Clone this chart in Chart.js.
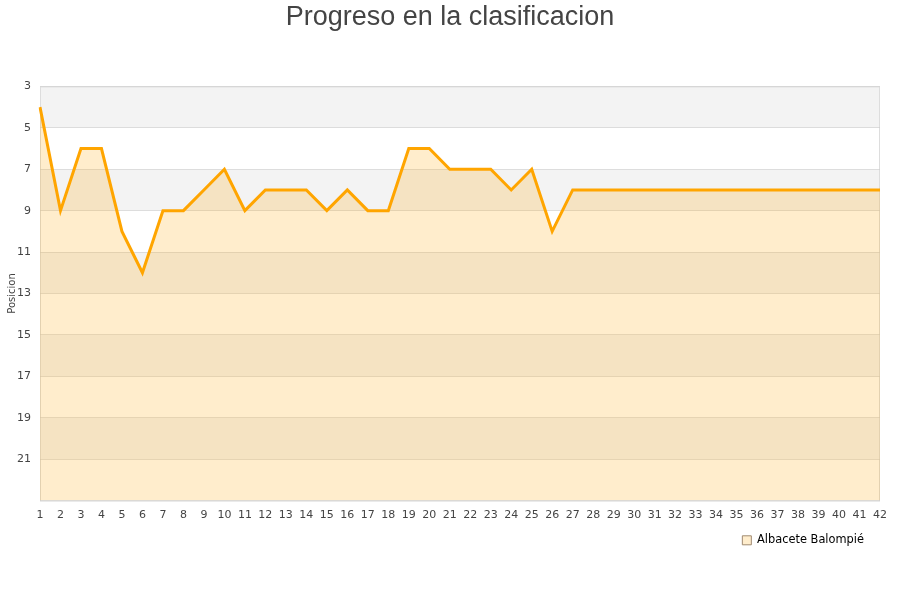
<!DOCTYPE html>
<html>
<head>
<meta charset="utf-8">
<script src="https://cdn.jsdelivr.net/npm/chart.js@4"></script>
<style>
  html, body { margin: 0; padding: 0; background: #fff; }
  #wrap { width: 900px; height: 600px; }
</style>
</head>
<body>
<div id="wrap"><canvas id="chart" width="900" height="600"></canvas></div>
<script>
// jornadas and positions
const jornadas = ['1','2','3','4','5','6','7','8','9','10','11','12','13','14','15','16','17','18','19','20','21',
  '22','23','24','25','26','27','28','29','30','31','32','33','34','35','36','37','38','39','40','41','42'];
const posiciones = [4, 9, 6, 6, 10, 12, 9, 9, 8, 7, 9, 8, 8, 8, 9, 8, 9, 9, 6, 6, 7,
  7, 7, 8, 7, 10, 8, 8, 8, 8, 8, 8, 8, 8, 8, 8, 8, 8, 8, 8, 8, 8];
const equipo = 'Albacete Balompié';
const yMin = 3, yMax = 23;

// alternating grey / white bands behind the plot
const bands = {
  id: 'bands',
  beforeDraw(chart) {
    const { ctx, chartArea: a, scales: { y } } = chart;
    ctx.save();
    for (let v = yMin, i = 0; v < yMax; v += 2, i++) {
      if (i % 2) continue;
      const p1 = y.getPixelForValue(v), p2 = y.getPixelForValue(v + 2);
      ctx.fillStyle = '#f3f3f3';
      ctx.fillRect(a.left, Math.min(p1, p2), a.width, Math.abs(p2 - p1));
    }
    ctx.strokeStyle = '#dddddd';
    ctx.lineWidth = 1;
    ctx.strokeRect(a.left + 0.5, a.top + 0.5, a.width - 1, a.height);
    ctx.restore();
  }
};

new Chart(document.getElementById('chart'), {
  type: 'line',
  data: {
    labels: jornadas,
    datasets: [{
      label: equipo,
      data: posiciones,
      borderColor: '#ffa500',
      backgroundColor: 'rgba(255,165,0,0.2)',
      borderWidth: 3,
      pointRadius: 0,
      tension: 0,
      fill: { value: yMax }
    }]
  },
  options: {
    responsive: false,
    animation: false,
    layout: { padding: { left: 0, right: 0, top: 0, bottom: 44 } },
    plugins: {
      title: {
        display: true,
        text: 'Progreso en la clasificacion',
        color: '#444',
        font: { family: 'Liberation Sans, Arial, sans-serif', size: 27, weight: 'normal' },
        padding: { top: 1, bottom: 53 }
      },
      legend: {
        position: 'bottom',
        align: 'end',
        fullSize: false,
        labels: {
          boxWidth: 9,
          boxHeight: 9,
          padding: 16,
          color: '#111',
          font: { family: 'DejaVu Sans, sans-serif', size: 11.4 },
          generateLabels: chart => [{
            text: equipo,
            fillStyle: 'rgba(255,165,0,0.2)',
            strokeStyle: '#a08a70',
            lineWidth: 1,
            datasetIndex: 0
          }]
        }
      },
      tooltip: { enabled: false }
    },
    scales: {
      x: {
        offset: false,
        grid: { display: false, drawTicks: false },
        border: { display: false },
        ticks: {
          color: '#444',
          padding: 8,
          maxRotation: 0,
          autoSkip: false,
          font: { family: 'DejaVu Sans, sans-serif', size: 11 }
        },
        afterFit: s => { s.height = 18; }
      },
      y: {
        reverse: true,
        min: yMin,
        max: yMax,
        grid: { color: 'rgba(200,200,200,0.55)', drawTicks: false },
        border: { display: false },
        ticks: {
          stepSize: 2,
          color: '#444',
          padding: 9,
          font: { family: 'DejaVu Sans, sans-serif', size: 11 },
          callback: v => v === yMax ? '' : v
        },
        title: {
          display: true,
          text: 'Posicion',
          color: '#444',
          font: { family: 'DejaVu Sans, sans-serif', size: 10 },
          padding: { top: 6, bottom: 0 }
        },
        afterFit: s => { s.width = 40; }
      },
      // empty right-hand margin so the title centres on the page
      y2: {
        position: 'right',
        grid: { display: false, drawTicks: false },
        border: { display: false },
        ticks: { display: false },
        afterFit: s => { s.width = 20; }
      }
    }
  },
  plugins: [bands]
});
</script>
</body>
</html>
